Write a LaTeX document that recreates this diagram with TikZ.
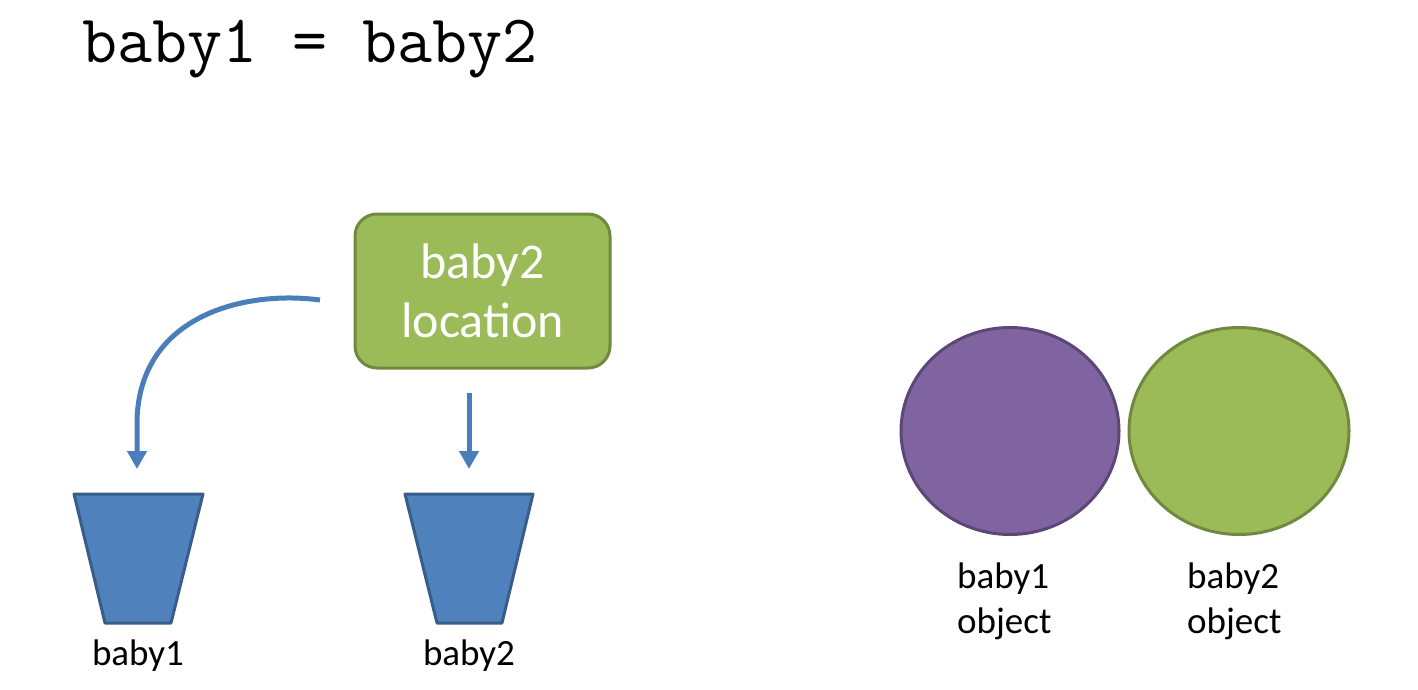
\documentclass[tikz,border=0pt]{standalone}
\usepackage{fontspec}
\setmainfont{Carlito}
\usetikzlibrary{arrows.meta}
\definecolor{bucketfill}{HTML}{4F81BD}
\definecolor{bucketline}{HTML}{385D8A}
\definecolor{greenfill}{HTML}{9BBB59}
\definecolor{greenline}{HTML}{71893F}
\definecolor{purplefill}{HTML}{8064A2}
\definecolor{purpleline}{HTML}{5C4776}
\definecolor{arrowblue}{HTML}{4A7EBB}
\tikzset{
  bucket/.style={fill=bucketfill, draw=bucketline, line width=3pt, line join=round},
  lbl/.style={inner sep=0pt, font=\fontsize{37}{45}\selectfont, text=black},
  ptr/.style={draw=arrowblue, line width=5pt, -{Triangle[width=19pt,length=18pt]}},
  locbox/.style={draw=greenline, fill=greenfill, line width=3pt, rounded corners=22pt,
    minimum width=255pt, minimum height=154pt, inner sep=0pt, align=center,
    text=white, font=\fontsize{50}{59}\selectfont}
}
\begin{document}
\begin{tikzpicture}[x=1pt,y=-1pt]
\useasboundingbox (0,0) rectangle (1418,689);
% title
\node[anchor=base west, inner sep=0pt, font=\ttfamily\fontsize{68}{70}\selectfont] (title) at (82,62) {baby1 = baby2};
% location box
\node[locbox] (loc) at (482.5,291) {baby2\\location};
% buckets
\draw[bucket] (74,494) -- (203,494) -- (171,623) -- (105,623) -- cycle;
\draw[bucket] (405,494) -- (533,494) -- (502,623) -- (437,623) -- cycle;
\node[lbl, anchor=base] (b1lbl) at (138,665) {baby1};
\node[lbl, anchor=base] (b2lbl) at (469,665) {baby2};
% arrows
\coordinate (c1s) at (320,300);
\coordinate (c1e) at (137,469);
\coordinate (c2s) at (469,393);
\coordinate (c2e) at (469,469);
\draw[ptr] (c1s) .. controls (245,290) and (140,315) .. (137,420) -- (c1e);
\draw[ptr] (c2s) -- (c2e);
% objects
\draw[fill=purplefill, draw=purpleline, line width=3pt] (1010,431) ellipse [x radius=109, y radius=103.5];
\draw[fill=greenfill, draw=greenline, line width=3pt] (1239,431) ellipse [x radius=110, y radius=103.5];
\node[lbl, anchor=base west] (o1a) at (957,588) {baby1};
\node[lbl, anchor=base west] (o1b) at (957,633) {object};
\node[lbl, anchor=base west] (o2a) at (1187,588) {baby2};
\node[lbl, anchor=base west] (o2b) at (1187,633) {object};
\end{tikzpicture}
\end{document}
